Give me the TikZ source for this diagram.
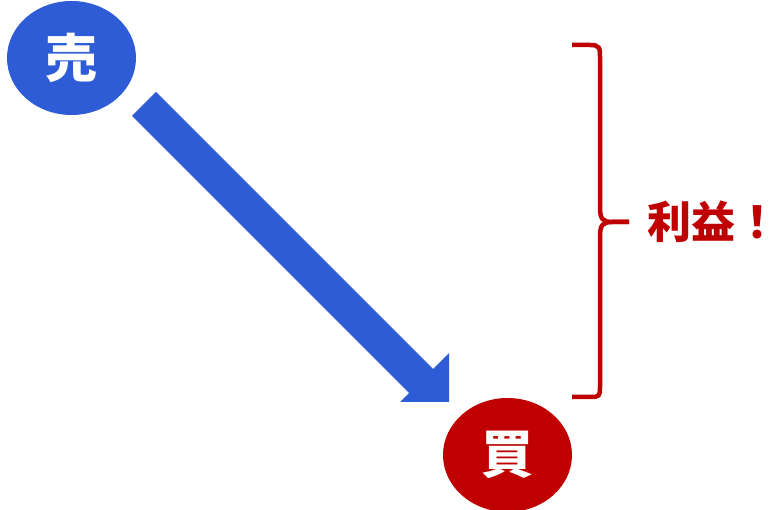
\documentclass[tikz,border=0pt]{standalone}
\usepackage{fontspec}
\usetikzlibrary{shapes.geometric}
\setmainfont{Noto Sans CJK JP}
\definecolor{myblue}{RGB}{46,92,215}
\definecolor{myred}{RGB}{192,0,0}
\begin{document}
\begin{tikzpicture}[x=1pt,y=-1pt,
  circ/.style={ellipse, minimum width=129pt, minimum height=114pt, inner sep=0pt, text=white, font=\fontsize{52}{52}\selectfont\bfseries},
  bracestyle/.style={draw=myred, line width=4.5pt, line join=round},
  label/.style={text=myred, font=\fontsize{44}{44}\selectfont\bfseries, inner sep=0pt}]
\useasboundingbox (0,0) rectangle (779,510);
\node[circ, fill=myblue] (sell) at (71.5,58) {売};
\node[circ, fill=myred] (buy) at (507.5,455) {買};
% arrow
\coordinate (t1) at (132,116);
\coordinate (t2) at (156,92);
\coordinate (s1) at (409,393);
\coordinate (s2) at (433,369);
\coordinate (b1) at (400,402);
\coordinate (b2) at (449,353);
\coordinate (tip) at (449,402);
\fill[myblue] (t1) -- (t2) -- (s2) -- (b2) -- (tip) -- (b1) -- (s1) -- cycle;
% brace
\coordinate (bt) at (572,45);
\coordinate (bm) at (629,222);
\coordinate (bb) at (572,397);
\draw[bracestyle] (bt) -- (590,45) .. controls (600,45) and (600,48) .. (600,58)
  -- (600,208) .. controls (600,219) and (603,222) .. (612,222) -- (bm);
\draw[bracestyle] (bm) -- (612,222) .. controls (603,222) and (600,225) .. (600,236)
  -- (600,386) .. controls (600,396) and (600,397) .. (590,397) -- (bb);
\node[label] (profit) at (713,222) {利益！};
\end{tikzpicture}
\end{document}
